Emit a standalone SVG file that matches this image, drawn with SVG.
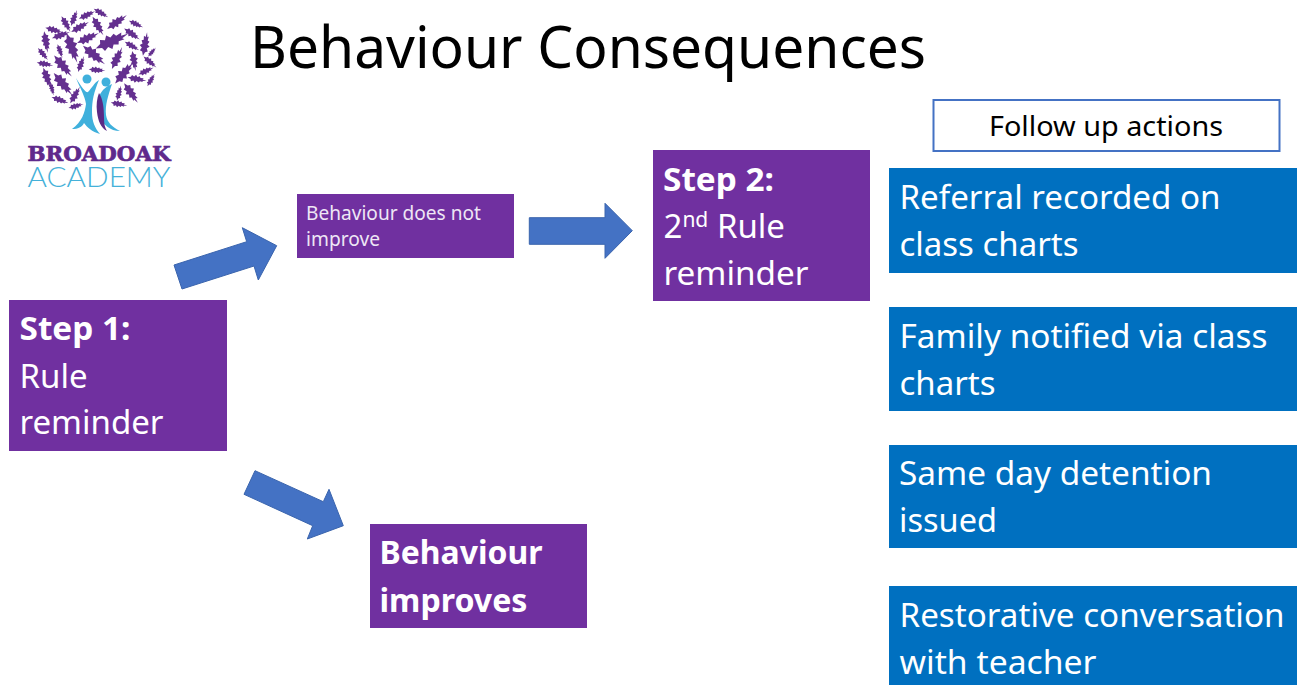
<svg xmlns="http://www.w3.org/2000/svg" xmlns:xlink="http://www.w3.org/1999/xlink" width="1297" height="685" viewBox="0 0 1297 685">
<style>
text{font-family:"Noto Sans","Open Sans","Liberation Sans",sans-serif}
.p{fill:#7030a0}.b{fill:#0070c0}
.l{font-size:33px;fill:#fff}
.s{font-size:19px;fill:#eee6f5}
.bd{font-weight:700}
.a{fill:#4472c4;stroke:#3a64ad;stroke-width:1}
.leaf{fill:#64308f}
.t{fill:#3fb0dc}
</style>
<defs>
<path id="lf" d="M-12 0L-8-1.5-7-4-4-2.5-2-5 0-2.5 3-4 4-2 8-2.5 7-.6 12 0 7 1.2 8 2.5 4 2 3 4 0 2.5-2 5-4 2.5-7 4-8 1.5Z"/>
</defs>
<rect width="1297" height="685" fill="#fff"/>
<g id="logo">
<g class="leaf">
<use xlink:href="#lf" transform="translate(101 13) rotate(30) scale(.7)"/>
<use xlink:href="#lf" transform="translate(87 15) rotate(-25) scale(.75)"/>
<use xlink:href="#lf" transform="translate(74 18) rotate(-70) scale(.7)"/>
<use xlink:href="#lf" transform="translate(66 24) rotate(60) scale(.75)"/>
<use xlink:href="#lf" transform="translate(117 22) rotate(-35) scale(1)"/>
<use xlink:href="#lf" transform="translate(98 26) rotate(60) scale(.9)"/>
<use xlink:href="#lf" transform="translate(80 27) rotate(-30) scale(.85)"/>
<use xlink:href="#lf" transform="translate(136 24) rotate(25) scale(.65)"/>
<use xlink:href="#lf" transform="translate(54 30) rotate(15) scale(.75)"/>
<use xlink:href="#lf" transform="translate(132 34) rotate(35) scale(.8)"/>
<use xlink:href="#lf" transform="translate(112 41) rotate(-25) scale(1.5)"/>
<use xlink:href="#lf" transform="translate(88 38) rotate(-25) scale(1)"/>
<use xlink:href="#lf" transform="translate(61 35) rotate(-20) scale(.8)"/>
<use xlink:href="#lf" transform="translate(46 42) rotate(80) scale(.9)"/>
<use xlink:href="#lf" transform="translate(72 48) rotate(70) scale(1.3)"/>
<use xlink:href="#lf" transform="translate(94 55) rotate(40) scale(1.2)"/>
<use xlink:href="#lf" transform="translate(132 46) rotate(30) scale(.7)"/>
<use xlink:href="#lf" transform="translate(145 44) rotate(-80) scale(1)"/>
<use xlink:href="#lf" transform="translate(60 51) rotate(70) scale(.6)"/>
<use xlink:href="#lf" transform="translate(43 54) rotate(50) scale(.65)"/>
<use xlink:href="#lf" transform="translate(152 52) rotate(-50) scale(.5)"/>
<use xlink:href="#lf" transform="translate(117 58) rotate(-65) scale(1)"/>
<use xlink:href="#lf" transform="translate(134 61) rotate(80) scale(.85)"/>
<use xlink:href="#lf" transform="translate(150 62) rotate(40) scale(.7)"/>
<use xlink:href="#lf" transform="translate(45 64) rotate(10) scale(.7)"/>
<use xlink:href="#lf" transform="translate(63 66) rotate(50) scale(1.15)"/>
<use xlink:href="#lf" transform="translate(81 64) rotate(-70) scale(.7)"/>
<use xlink:href="#lf" transform="translate(97 70) rotate(5) scale(.7)"/>
<use xlink:href="#lf" transform="translate(124 73) rotate(-50) scale(1.15)"/>
<use xlink:href="#lf" transform="translate(146 71) rotate(-25) scale(.7)"/>
<use xlink:href="#lf" transform="translate(47 78) rotate(70) scale(.9)"/>
<use xlink:href="#lf" transform="translate(63 84) rotate(50) scale(1.2)"/>
<use xlink:href="#lf" transform="translate(137 79) rotate(10) scale(.8)"/>
<use xlink:href="#lf" transform="translate(151 80) rotate(-60) scale(.6)"/>
<use xlink:href="#lf" transform="translate(52 89) rotate(75) scale(.55)"/>
<use xlink:href="#lf" transform="translate(75 95) rotate(-60) scale(.8)"/>
<use xlink:href="#lf" transform="translate(119 93) rotate(-75) scale(.65)"/>
<use xlink:href="#lf" transform="translate(131 93) rotate(55) scale(1)"/>
<use xlink:href="#lf" transform="translate(60 100) rotate(20) scale(.75)"/>
<use xlink:href="#lf" transform="translate(76 106) rotate(-15) scale(.65)"/>
<use xlink:href="#lf" transform="translate(119 104) rotate(10) scale(.7)"/>
</g>
<circle class="t" cx="87" cy="79" r="4.5"/>
<circle class="t" cx="106" cy="82" r="4.5"/>
<path class="t" d="M76 78C82 88 86 93 88 92C92 88 94 83 99 80C94 92 92 100 92 112C92 122 95 128 100 134C92 132 87 127 84 123C82 127 78 129 72 129C82 122 85 112 86 104C85 96 80 88 76 78Z"/>
<path class="t" d="M112 84C108 96 105 105 106 115C107 122 112 127 120 131C110 131 103 125 99 115C96 104 97 90 112 84Z"/>
<path d="M99 93C103 99 104 108 104 118C104 124 105 128 107 131C101 128 98 121 97 112C96 105 97 98 99 93Z" fill="#5a2a86"/>
<text x="99" y="161" text-anchor="middle" style="font-family:'DejaVu Serif','Liberation Serif',serif;font-weight:700;font-size:21px;fill:#5f2a8c;stroke:#5f2a8c;stroke-width:.7" textLength="143" lengthAdjust="spacingAndGlyphs">BROADOAK</text>
<text x="99" y="187" text-anchor="middle" style="font-family:'Lato','Liberation Sans',sans-serif;font-weight:300;font-size:28px;fill:#45b1d9" textLength="143" lengthAdjust="spacingAndGlyphs">ACADEMY</text>
</g>
<text id="title" x="250" y="68" style="font-size:59px;fill:#000" textLength="676" lengthAdjust="spacingAndGlyphs">Behaviour Consequences</text>
<g id="connectors">
<polygon class="a" points="174,265 246.7,241.7 242.3,227.7 276.7,245.7 258.3,280 254,266 182,289"/>
<polygon class="a" points="529.3,217.7 605,217.7 605,203.3 632.3,230.7 605,258.3 605,244.3 529.3,244.3"/>
<polygon class="a" points="255,470.7 323.3,501.7 329,489.3 343.3,525.7 307.3,539 312.7,525.7 244,494.3"/>
</g>
<g id="step1"><rect class="p" x="9" y="300" width="218" height="151"/>
<text class="l bd" x="19.5" y="340" textLength="111" lengthAdjust="spacingAndGlyphs">Step 1:</text>
<text class="l" x="19.5" y="388">Rule</text>
<text class="l" x="19.5" y="434" textLength="144" lengthAdjust="spacingAndGlyphs">reminder</text></g>
<g id="no-improve"><rect class="p" x="297" y="194" width="217" height="64"/>
<text class="s" x="306" y="220" textLength="175" lengthAdjust="spacingAndGlyphs">Behaviour does not</text>
<text class="s" x="306" y="246" textLength="74" lengthAdjust="spacingAndGlyphs">improve</text></g>
<g id="step2"><rect class="p" x="653" y="150" width="217" height="151"/>
<text class="l bd" x="663" y="191" textLength="111" lengthAdjust="spacingAndGlyphs">Step 2:</text>
<text class="l" x="663.5" y="238">2<tspan font-size="21" dy="-11">nd</tspan><tspan dy="11"> Rule</tspan></text>
<text class="l" x="663.5" y="285" textLength="145" lengthAdjust="spacingAndGlyphs">reminder</text></g>
<g id="improves"><rect class="p" x="370" y="524" width="217" height="104"/>
<text class="l bd" x="379.5" y="564" textLength="163" lengthAdjust="spacingAndGlyphs">Behaviour</text>
<text class="l bd" x="379.5" y="612" textLength="148" lengthAdjust="spacingAndGlyphs">improves</text></g>
<g id="follow-up"><rect x="933.5" y="100" width="346" height="51" fill="#fff" stroke="#4472c4" stroke-width="2"/>
<text x="989" y="135.5" style="font-size:28px;fill:#000" textLength="234" lengthAdjust="spacingAndGlyphs">Follow up actions</text></g>
<g id="action1"><rect class="b" x="889" y="168" width="408" height="105"/>
<text class="l" x="899.5" y="209" textLength="321" lengthAdjust="spacingAndGlyphs">Referral recorded on</text>
<text class="l" x="899.5" y="256" textLength="179" lengthAdjust="spacingAndGlyphs">class charts</text></g>
<g id="action2"><rect class="b" x="889" y="307" width="408" height="104"/>
<text class="l" x="899.5" y="348" textLength="368" lengthAdjust="spacingAndGlyphs">Family notified via class</text>
<text class="l" x="899.5" y="395" textLength="96" lengthAdjust="spacingAndGlyphs">charts</text></g>
<g id="action3"><rect class="b" x="889" y="445" width="408" height="103"/>
<text class="l" x="899" y="485" textLength="313" lengthAdjust="spacingAndGlyphs">Same day detention</text>
<text class="l" x="899" y="532" textLength="98" lengthAdjust="spacingAndGlyphs">issued</text></g>
<g id="action4"><rect class="b" x="889" y="586" width="408" height="99"/>
<text class="l" x="899.5" y="627" textLength="385" lengthAdjust="spacingAndGlyphs">Restorative conversation</text>
<text class="l" x="899.5" y="674" textLength="197" lengthAdjust="spacingAndGlyphs">with teacher</text></g>
</svg>
